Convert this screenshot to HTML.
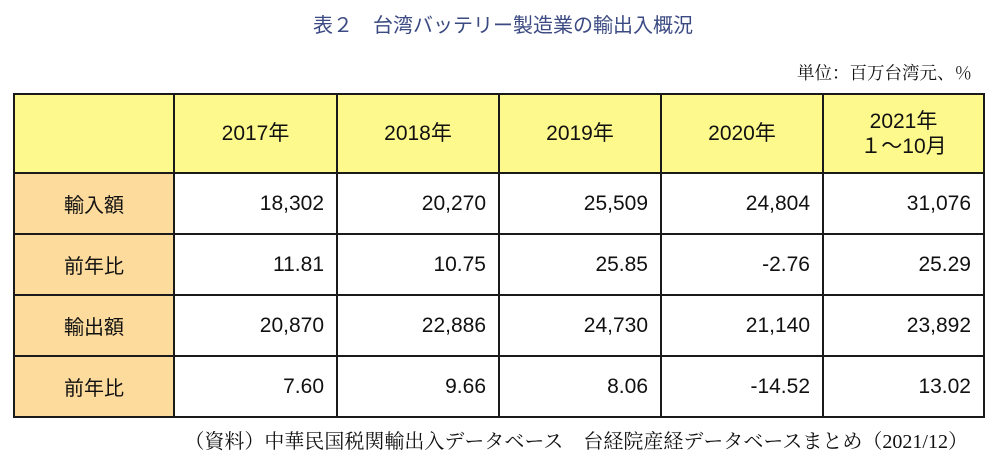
<!DOCTYPE html>
<html><head><meta charset="utf-8"><style>
body{margin:0;width:1006px;height:462px;background:#fff;position:relative;overflow:hidden;font-family:"Liberation Sans","Noto Sans CJK JP",sans-serif;}
#title{position:absolute;left:0;width:1006px;top:9px;text-align:center;font-size:20px;color:#3b4a82;}
#unit{position:absolute;right:34px;top:60px;font-family:"Liberation Serif","Noto Serif CJK SC",serif;font-size:17.5px;color:#111;}
#note{position:absolute;right:38px;top:425px;font-family:"Liberation Serif","Noto Serif CJK SC",serif;font-size:20px;color:#111;white-space:nowrap;}
table{position:absolute;left:13px;top:93px;border-collapse:collapse;}
td{border:2px solid #1a1a1a;font-size:21px;color:#111;padding:0;}
tr.h td{height:77px;background:#fdf98c;text-align:center;line-height:25px;}
tr.r td{height:59px;text-align:right;padding-right:12px;}
tr.r td.l{background:#fddb9c;text-align:center;padding-right:0;font-size:20px;}
</style></head><body>
<div id="title">表２　台湾バッテリー製造業の輸出入概況</div>
<div id="unit">単位：百万台湾元、％</div>
<table>
<colgroup><col style="width:160px"><col style="width:163px"><col style="width:162px"><col style="width:162px"><col style="width:162px"><col style="width:161px"></colgroup>
<tr class="h"><td></td><td>2017年</td><td>2018年</td><td>2019年</td><td>2020年</td><td>2021年<br>１〜10月</td></tr>
<tr class="r"><td class="l">輸入額</td><td>18,302</td><td>20,270</td><td>25,509</td><td>24,804</td><td>31,076</td></tr>
<tr class="r"><td class="l">前年比</td><td>11.81</td><td>10.75</td><td>25.85</td><td>-2.76</td><td>25.29</td></tr>
<tr class="r"><td class="l">輸出額</td><td>20,870</td><td>22,886</td><td>24,730</td><td>21,140</td><td>23,892</td></tr>
<tr class="r"><td class="l">前年比</td><td>7.60</td><td>9.66</td><td>8.06</td><td>-14.52</td><td>13.02</td></tr>
</table>
<div id="note">（資料）中華民国税関輸出入データベース　台経院産経データベースまとめ（2021/12）</div>
</body></html>
